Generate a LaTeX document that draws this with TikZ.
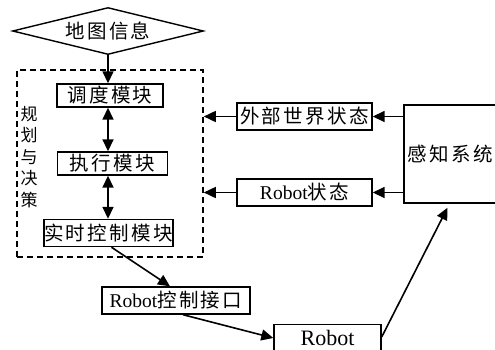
\documentclass[tikz,border=0pt]{standalone}
\usepackage{fontspec}
\setmainfont{Liberation Serif}
\newfontfamily\cjk[LetterSpace=12]{Noto Sans CJK SC}
\newfontfamily\cjkv{Noto Sans CJK SC}
\usetikzlibrary{arrows.meta,shapes.geometric,calc}
\begin{document}
\begin{tikzpicture}[x=1pt,y=-1pt,
  box/.style={draw,line width=1.4pt,rectangle,inner sep=0pt,font=\fontsize{19.5}{22}\selectfont},
  bigbox/.style={box,minimum height=27pt},
  smallbox/.style={box,minimum height=23pt},
  arr/.style={line width=1.6pt,-{Triangle[length=12pt,width=11pt]}},
  darr/.style={line width=1.6pt,{Triangle[length=12pt,width=11pt]}-{Triangle[length=12pt,width=11pt]}}]
\useasboundingbox (0,0) rectangle (495,349);
% map diamond
\node[diamond,shape aspect=4,draw,line width=1.4pt,inner sep=0pt,minimum width=191pt,minimum height=47pt,font=\fontsize{19.5}{22}\selectfont] (map) at (108,31) {\cjk 地图信息};
% planning frame
\node[draw,dash pattern=on 6pt off 4pt,line width=1.6pt,minimum width=186pt,minimum height=187pt,inner sep=0pt] (plan) at (110,163.5) {};
\node[inner sep=0pt,align=center,font=\cjkv\fontsize{17}{21.5}\selectfont] (planlbl) at (29,157) {规\\划\\与\\决\\策};
\node[smallbox,minimum width=106pt] (sched) at (110,95.5) {\cjk 调度模块};
\node[smallbox,minimum width=110pt] (exec) at (112.5,163.5) {\cjk 执行模块};
\node[bigbox,minimum width=129pt] (rt) at (108.5,233) {\cjk 实时控制模块};
\node[bigbox,minimum width=148pt] (ctrl) at (176,300.5) {Robot{\cjk 控制接口}};
\node[box,minimum width=107pt,text height=21pt,text depth=36pt,anchor=north,font=\fontsize{22}{24}\selectfont] (robot) at (327.5,324) {Robot};
\node[box,minimum width=93pt,minimum height=98pt] (sense) at (450.5,154) {\cjk 感知系统};
\node[bigbox,minimum width=135pt] (ext) at (304.5,116.5) {\cjk 外部世界状态};
\node[bigbox,minimum width=135pt] (rstate) at (304.5,192.5) {Robot{\cjk 状态}};
% connectors
\draw[arr] (map.south) -- (map.south |- sched.north);
\draw[darr] (map.south |- sched.south) -- (map.south |- exec.north);
\draw[darr] (map.south |- exec.south) -- (map.south |- rt.north);
\draw[arr] (sense.west |- ext.east) -- (ext.east);
\draw[arr] (ext.west) -- (ext.west -| plan.east);
\draw[arr] (sense.west |- rstate.east) -- (rstate.east);
\draw[arr] (rstate.west) -- (rstate.west -| plan.east);
\draw[arr] ([xshift=3pt]rt.south) -- ([xshift=-6pt]ctrl.north);
\draw[arr] ([xshift=7pt]ctrl.south) -- ([yshift=-14pt]robot.north west);
\draw[arr] ([yshift=-13pt]robot.north east) -- ([xshift=-3pt,yshift=-4pt]sense.south);
\end{tikzpicture}
\end{document}
